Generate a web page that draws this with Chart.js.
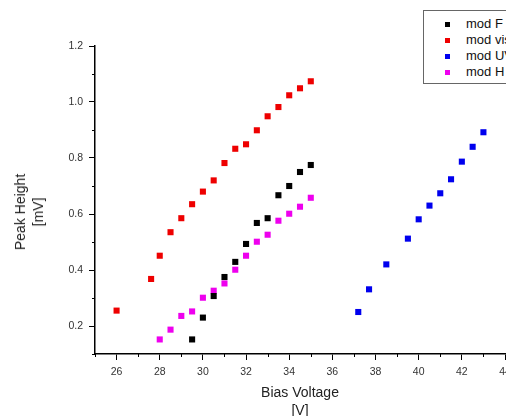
<!DOCTYPE html>
<html lang="en">
<head>
  <meta charset="UTF-8">
  <title>Peak Height vs Bias Voltage</title>
  <script src="https://cdn.jsdelivr.net/npm/chart.js"></script>
  <style>
    body { margin: 0; background: #fff; overflow: hidden; font-family: "Liberation Sans", Arial, sans-serif; }
    #wrap { position: relative; width: 506px; height: 416px; overflow: hidden; }
    canvas { position: absolute; left: 0; top: 0; }
    #ytitle { position: absolute; left: 29px; top: 212px; transform: translate(-50%, -50%) rotate(-90deg);
              text-align: center; font-size: 14px; line-height: 18px; color: #222; white-space: nowrap; }
    #legend { position: absolute; left: 423px; top: 10px; width: 110px; padding: 5px 0 3px 0;
              border: 1px solid #666; background: #fff; font-size: 13px; line-height: 16px; color: #111; }
    .item { position: relative; height: 16px; white-space: nowrap; }
    .item span.box { position: absolute; left: 21px; top: 6px; width: 5px; height: 5px; }
    .item span.txt { position: absolute; left: 42px; top: 0; }
  </style>
</head>
<body>
  <div id="wrap">
    <canvas id="chart" width="540" height="420"></canvas>
    <div id="ytitle">Peak Height<br>[mV]</div>
    <div id="legend"></div>
  </div>

  <script>
    // series
    const fX = [29.5, 30, 30.5, 31, 31.5, 32, 32.5, 33, 33.5, 34, 34.5, 35];
    const fY = [0.152, 0.230, 0.307, 0.375, 0.429, 0.493, 0.568, 0.585, 0.667, 0.700, 0.750, 0.775];

    const visX = [26, 27.6, 28, 28.5, 29, 29.5, 30, 30.5, 31, 31.5, 32, 32.5, 33, 33.5, 34, 34.5, 35];
    const visY = [0.255, 0.368, 0.451, 0.535, 0.585, 0.635, 0.680, 0.720, 0.782, 0.833, 0.849, 0.899, 0.949, 0.982, 1.024, 1.049, 1.074];

    const uvX = [37.2, 37.7, 38.5, 39.5, 40, 40.5, 41, 41.5, 42, 42.5, 43];
    const uvY = [0.250, 0.331, 0.420, 0.512, 0.581, 0.630, 0.674, 0.724, 0.787, 0.840, 0.892];

    const hX = [28, 28.5, 29, 29.5, 30, 30.5, 31, 31.5, 32, 32.5, 33, 33.5, 34, 34.5, 35];
    const hY = [0.152, 0.187, 0.236, 0.252, 0.301, 0.326, 0.352, 0.401, 0.451, 0.501, 0.526, 0.576, 0.601, 0.626, 0.658];

    const seriesNames = ["mod F", "mod vis", "mod UV", "mod H"];
    const seriesColors = ["#000000", "#ee0000", "#0000ee", "#ee00ee"];

    const xTicks = [26, 28, 30, 32, 34, 36, 38, 40, 42, 44];
    const xMinor = [25, 27, 29, 31, 33, 35, 37, 39, 41, 43];
    const yTicks = [0.2, 0.4, 0.6, 0.8, 1.0, 1.2];
    const yMinor = [0.1, 0.3, 0.5, 0.7, 0.9, 1.1];

    const pairs = (xs, ys) => xs.map((x, i) => ({ x: x, y: ys[i] }));
    const seriesData = [pairs(fX, fY), pairs(visX, visY), pairs(uvX, uvY), pairs(hX, hY)];

    const datasets = seriesNames.map((name, i) => ({
      label: name,
      data: seriesData[i],
      pointStyle: "rect",
      pointRadius: 4.3,
      pointHoverRadius: 4.3,
      borderWidth: 0,
      backgroundColor: seriesColors[i],
      borderColor: seriesColors[i]
    }));

    // short minor ticks outside the axes
    const minorTicks = {
      id: "minorTicks",
      afterDraw(chart) {
        const ctx = chart.ctx;
        const xs = chart.scales.x, ys = chart.scales.y;
        const area = chart.chartArea;
        ctx.save();
        ctx.strokeStyle = "#000";
        ctx.lineWidth = 1;
        ctx.beginPath();
        xMinor.forEach(v => {
          const px = Math.round(xs.getPixelForValue(v)) + 0.5;
          ctx.moveTo(px, area.bottom);
          ctx.lineTo(px, area.bottom + 3);
        });
        yMinor.forEach(v => {
          const py = Math.round(ys.getPixelForValue(v)) + 0.5;
          ctx.moveTo(area.left - 3, py);
          ctx.lineTo(area.left, py);
        });
        ctx.stroke();
        ctx.restore();
      }
    };

    const tickFont = { family: "'Liberation Sans', Arial, sans-serif", size: 10.5 };

    const chart = new Chart(document.getElementById("chart"), {
      type: "scatter",
      data: { datasets: datasets },
      options: {
        responsive: false,
        animation: false,
        layout: { padding: { left: 0, top: 46, right: 35, bottom: 0 } },
        plugins: { legend: { display: false }, tooltip: { enabled: false } },
        scales: {
          x: {
            type: "linear",
            min: 25,
            max: 44,
            afterBuildTicks: s => { s.ticks = xTicks.map(v => ({ value: v })); },
            afterFit: s => { s.height = 66; },
            border: { display: true, color: "#000", width: 1.5 },
            grid: { display: true, drawOnChartArea: false, drawTicks: true, tickLength: 6, color: "#000" },
            ticks: { color: "#333", font: tickFont, padding: 6, maxRotation: 0, autoSkip: false },
            title: {
              display: true,
              text: ["Bias Voltage", "[V]"],
              color: "#222",
              font: { family: "'Liberation Sans', Arial, sans-serif", size: 14, lineHeight: 18 / 14 },
              padding: { top: 0, bottom: 0 }
            }
          },
          y: {
            type: "linear",
            min: 0.1,
            max: 1.2,
            afterBuildTicks: s => { s.ticks = yTicks.map(v => ({ value: v })); },
            afterFit: s => { s.width = 95; },
            border: { display: true, color: "#000", width: 1.5 },
            grid: { display: true, drawOnChartArea: false, drawTicks: true, tickLength: 6, color: "#000" },
            ticks: { color: "#333", font: tickFont, padding: 6, callback: v => v.toFixed(1) }
          }
        }
      },
      plugins: [minorTicks]
    });

    // legend box, built from the datasets
    const legend = document.getElementById("legend");
    chart.data.datasets.forEach(ds => {
      const row = document.createElement("div");
      row.className = "item";
      row.innerHTML = `<span class="box" style="background:${ds.backgroundColor}"></span><span class="txt">${ds.label}</span>`;
      legend.appendChild(row);
    });
  </script>
</body>
</html>
